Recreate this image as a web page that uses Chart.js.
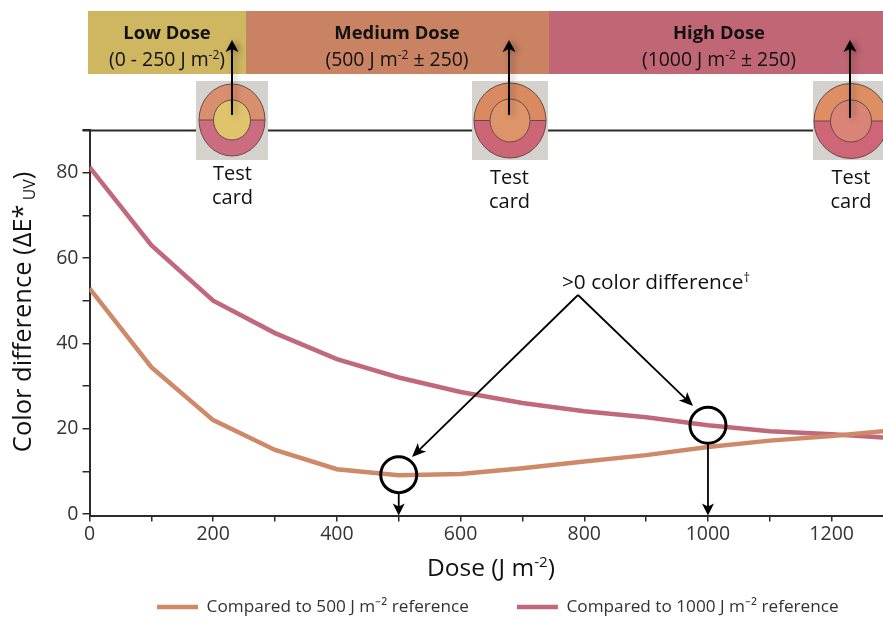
<!DOCTYPE html>
<html><head><meta charset="utf-8">
<style>html,body{margin:0;padding:0;background:#fff}canvas{display:block}</style>
<script src="https://cdn.jsdelivr.net/npm/chart.js@4"></script>
</head><body><canvas id="c" width="883" height="620"></canvas>
<script>
const doses = [0,100,200,300,400,500,600,700,800,900,1000,1100,1200,1300];
const compared500 = [52.9,34.4,22,15,10.5,9.1,9.4,10.7,12.3,13.8,15.7,17.2,18.3,19.6];
const compared1000 = [81.3,63,50,42.4,36.3,32,28.6,26,24.1,22.7,20.8,19.4,18.7,17.8];
const xTickValues = [0,100,200,300,400,500,600,700,800,900,1000,1100,1200];
const yTickValues = [0,10,20,30,40,50,60,70,80,90];
const xLabelled = [0,200,400,600,800,1000,1200];
const yLabelled = [0,20,40,60,80];
const seriesNames = ['Compared to 500 J m\u207B\u00B2 reference','Compared to 1000 J m\u207B\u00B2 reference'];
const bandNames = ['Low Dose','Medium Dose','High Dose'];
const bandRanges = [[['(0 - 250 J m'],['-2','s'],[')']],[['(500 J m'],['-2','s'],[' \u00B1 250)']],[['(1000 J m'],['-2','s'],[' \u00B1 250)']]];

const FONT='"Open Sans"', ORANGE='#CE8A68', RED='#C1697B', INK='#111', AXIS='#2b2b2b';

function rich(ctx,runs,x,y,size,opt){
  opt=opt||{};
  ctx.save();
  ctx.textBaseline='alphabetic';ctx.textAlign='left';ctx.fillStyle=opt.color||INK;
  const weight=opt.weight?opt.weight+' ':'';
  const fontOf=r=>{const small=r[1];return weight+(small?size*0.62:size)+'px '+FONT;};
  let w=0;runs.forEach(r=>{ctx.font=fontOf(r);w+=ctx.measureText(r[0]).width;});
  let cx=x-w/2;
  runs.forEach(r=>{ctx.font=fontOf(r);
    const dy=r[1]==='s'?-size*0.36:r[1]==='b'?size*0.16:0;
    ctx.fillText(r[0],cx,y+dy);cx+=ctx.measureText(r[0]).width;});
  ctx.restore();
}
function arrow(ctx,x1,y1,x2,y2,lw,hl,hw){
  const a=Math.atan2(y2-y1,x2-x1);
  ctx.strokeStyle='#000';ctx.fillStyle='#000';ctx.lineWidth=lw;
  ctx.beginPath();ctx.moveTo(x1,y1);ctx.lineTo(x2-Math.cos(a)*hl*0.7,y2-Math.sin(a)*hl*0.7);ctx.stroke();
  ctx.save();ctx.translate(x2,y2);ctx.rotate(a);
  ctx.beginPath();ctx.moveTo(0,0);ctx.lineTo(-hl,-hw/2);ctx.lineTo(-hl*0.75,0);ctx.lineTo(-hl,hw/2);ctx.closePath();ctx.fill();
  ctx.restore();
}
function card(ctx,c){
  ctx.save();
  ctx.beginPath();ctx.rect(c.bx,81,c.bw,79);ctx.clip();
  ctx.fillStyle='#D3D2CC';ctx.fillRect(c.bx,81,c.bw,79);
  const half=(from,to,col)=>{ctx.fillStyle=col;ctx.beginPath();ctx.ellipse(c.cx,c.cy,c.rx,c.ry,0,from,to);ctx.closePath();ctx.fill();};
  half(Math.PI,2*Math.PI,c.top);half(0,Math.PI,c.bot);
  ctx.strokeStyle='#6a4a48';ctx.lineWidth=1;
  ctx.beginPath();ctx.ellipse(c.cx,c.cy,c.rx,c.ry,0,0,2*Math.PI);ctx.stroke();
  ctx.beginPath();ctx.moveTo(c.cx-c.rx,c.cy);ctx.lineTo(c.cx+c.rx,c.cy);ctx.stroke();
  ctx.fillStyle=c.inner;
  ctx.beginPath();ctx.ellipse(c.cx,c.cy,c.irx,c.iry,0,0,2*Math.PI);ctx.fill();ctx.stroke();
  ctx.restore();
  ctx.save();
  ctx.shadowColor='rgba(0,0,0,.35)';ctx.shadowBlur=6;ctx.shadowOffsetX=3;ctx.shadowOffsetY=1;
  arrow(ctx,c.ax,c.ay,c.ax,40,2,12,13);
  ctx.restore();
  ctx.save();ctx.fillStyle=INK;ctx.font='20px '+FONT;ctx.textAlign='center';ctx.textBaseline='alphabetic';
  ctx.fillText('Test',c.tx,c.ty);ctx.fillText('card',c.tx,c.ty+24);ctx.restore();
}
const cards=[
 {bx:196,bw:72,cx:232,cy:120,rx:33,ry:36,irx:18.5,iry:20,top:'#D98F6E',bot:'#CC6C80',inner:'#DFC46C',ax:232,ay:115,tx:232.5,ty:180},
 {bx:472,bw:76,cx:510,cy:120.5,rx:36,ry:37.5,irx:20,iry:21.5,top:'#DA8A60',bot:'#CC6676',inner:'#DC9468',ax:509,ay:115,tx:509.5,ty:184},
 {bx:813,bw:70,cx:851,cy:121,rx:37,ry:37.5,irx:20.5,iry:21,top:'#DD8E62',bot:'#CE6678',inner:'#D98476',ax:850,ay:118,tx:851,ty:184}
];
const bands=[[88,246,'#CFB660',167],[246,549,'#C98262',397],[549,883,'#C06674',719]];

const decor={id:'decor',
 afterLayout(chart){
  const l=chart.legend; l.left=109; l.right=1000; l.top=550.5; l.bottom=626;
 },
 beforeDatasetsDraw(chart){
  const ctx=chart.ctx,a=chart.chartArea;
  ctx.save();
  ctx.strokeStyle=AXIS;ctx.lineWidth=2.2;
  ctx.beginPath();ctx.moveTo(a.left-7,a.top+0.5);ctx.lineTo(a.right,a.top+0.5);ctx.stroke();
  bands.forEach((b,i)=>{
    ctx.fillStyle=b[2];ctx.fillRect(b[0],11,b[1]-b[0],63);
    rich(ctx,[[bandNames[i]]],b[3],38.5,18.4,{weight:'bold'});
    rich(ctx,bandRanges[i],b[3],65.5,19.4);
  });
  ctx.restore();
 },
 afterDatasetsDraw(chart){
  const ctx=chart.ctx,x=chart.scales.x,y=chart.scales.y;
  cards.forEach(c=>card(ctx,c));
  const base=y.bottom;
  const c1={x:x.getPixelForValue(doses[5]),y:y.getPixelForValue(compared500[5])-0.5};
  const c2={x:x.getPixelForValue(doses[10]),y:y.getPixelForValue(compared1000[10])};
  ctx.save();
  ctx.strokeStyle='#000';ctx.lineWidth=3;
  [c1,c2].forEach(c=>{ctx.beginPath();ctx.arc(c.x,c.y,18,0,2*Math.PI);ctx.stroke();});
  arrow(ctx,578,295,412,457,1.8,14,12);
  arrow(ctx,578,295,693,406,1.8,14,12);
  arrow(ctx,c1.x,c1.y+18,c1.x,base,1.8,12,12);
  arrow(ctx,c2.x,c2.y+18,c2.x,base,1.8,12,12);
  ctx.restore();
  rich(ctx,[['>0 color difference'],['\u2020','s']],656,289,20.8);
  rich(ctx,[['Dose (J m'],['-2','s'],[')']],491,576,24.5);
  ctx.save();ctx.translate(31,312);ctx.rotate(-Math.PI/2);
  rich(ctx,[['Color difference (\u0394E*'],[' UV','b'],[')']],0,0,25.5);
  ctx.restore();
 }
};

new Chart(document.getElementById('c'),{
 type:'line',
 data:{labels:doses,datasets:[
  {label:seriesNames[0],data:doses.map((d,i)=>({x:d,y:compared500[i]})),borderColor:ORANGE,backgroundColor:ORANGE,borderWidth:4.5,pointRadius:0,tension:0},
  {label:seriesNames[1],data:doses.map((d,i)=>({x:d,y:compared1000[i]})),borderColor:RED,backgroundColor:RED,borderWidth:4.5,pointRadius:0,tension:0}
 ]},
 options:{
  responsive:false,animation:false,
  layout:{padding:{top:130,left:0,right:0,bottom:0}},
  plugins:{
   tooltip:{enabled:false},
   legend:{position:'bottom',align:'start',maxHeight:36,labels:{
     usePointStyle:true,pointStyle:'line',pointStyleWidth:41,boxHeight:4,padding:48,color:'#333',
     font:{family:FONT,size:17.2}}}
  },
  scales:{
   x:{type:'linear',min:0,max:1283,
    afterBuildTicks(s){s.ticks=xTickValues.map(v=>({value:v}));},
    afterFit(s){s.height=68.5;},
    border:{color:AXIS,width:2},
    grid:{drawOnChartArea:false,drawTicks:true,tickLength:6,color:AXIS,lineWidth:1.5},
    ticks:{autoSkip:false,maxRotation:0,color:'#333',padding:1,font:{family:FONT,size:19.5},
      callback:v=>xLabelled.includes(v)?String(v):''}
   },
   y:{min:-0.35,max:90,
    afterBuildTicks(s){s.ticks=yTickValues.map(v=>({value:v}));},
    afterFit(s){s.width=89.5;},
    border:{color:AXIS,width:2},
    grid:{drawOnChartArea:false,drawTicks:true,tickLength:7,color:AXIS,lineWidth:1.5},
    ticks:{autoSkip:false,color:'#333',padding:4,font:{family:FONT,size:19.5},
      callback:v=>yLabelled.includes(v)?String(v):''}
   }
  }
 },
 plugins:[decor]
});
</script></body></html>
